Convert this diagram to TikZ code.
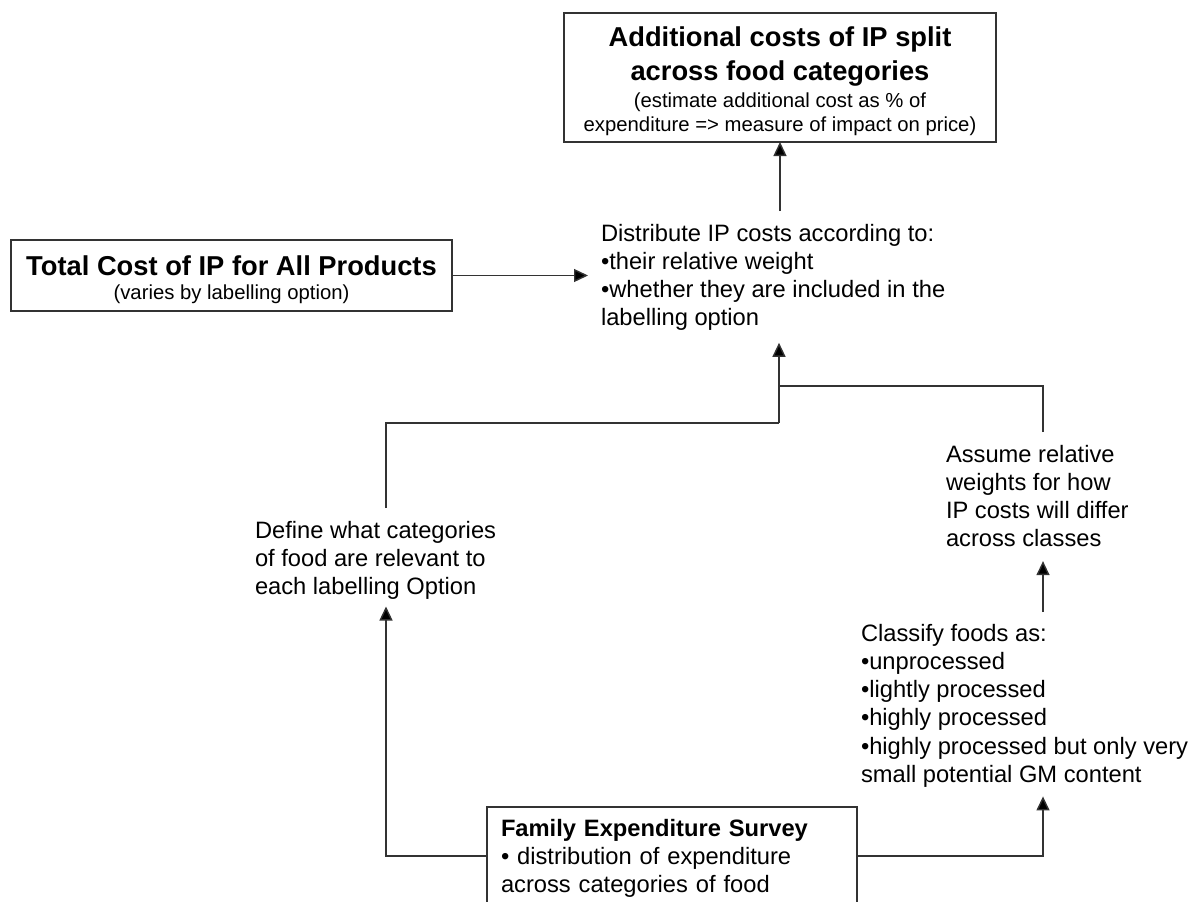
\documentclass[tikz,border=0pt]{standalone}
\usepackage{fontspec}
\setmainfont{Liberation Sans}
\usetikzlibrary{arrows.meta}
% strut that fixes the height of the first line of a text block
\newcommand{\firstln}{\rule{0pt}{18pt}}
\begin{document}
\begin{tikzpicture}[x=1pt,y=-1pt,
  line/.style={draw=black!80, line width=1.4pt},
  arr/.style={line, -{Triangle[length=14pt,width=13pt,fill=black]}},
  frame/.style={draw=black!80, line width=1.4pt, inner sep=0pt, outer sep=0pt},
  txt/.style={inner sep=0pt, outer sep=0pt, align=left, anchor=north west,
    font=\fontsize{23.7}{28.3}\selectfont},
  bigtitle/.style={inner sep=0pt, outer sep=0pt, anchor=base,
    font=\fontsize{27.3}{33}\selectfont\bfseries},
  subtitle/.style={inner sep=0pt, outer sep=0pt, anchor=base,
    font=\fontsize{20.3}{24}\selectfont},
]
\useasboundingbox (0,0) rectangle (1192,902);

% result box at the top
\node[frame, minimum width=432pt, minimum height=129pt] (tbox) at (780,77.5) {};
\node[bigtitle] (tt1) at (780,46.7) {Additional costs of IP split};
\node[bigtitle] (tt2) at (780,80) {across food categories};
\node[subtitle] (ts1) at (780,107) {(estimate additional cost as \% of};
\node[subtitle] (ts2) at (780,131) {expenditure => measure of impact on price)};

% total cost box on the left
\node[frame, minimum width=441pt, minimum height=71pt] (lbox) at (231.5,275.5) {};
\node[bigtitle] (lt1) at (231.5,275) {Total Cost of IP for All Products};
\node[subtitle] (lt2) at (231.5,299) {(varies by labelling option)};

% free text steps
\node[txt] (dist) at (601,223) {\firstln Distribute IP costs according to:\\
  •their relative weight\\
  •whether they are included in the\\
  labelling option};

\node[txt] (define) at (255,520) {\firstln Define what categories\\
  of food are relevant to\\
  each labelling Option};

\node[txt] (assume) at (946,444) {\firstln Assume relative\\
  weights for how\\
  IP costs will differ\\
  across classes};

\node[txt] (classify) at (861,623) {\firstln Classify foods as:\\
  •unprocessed\\
  •lightly processed\\
  •highly processed\\
  •highly processed but only very\\
  small potential GM content};

% data source box at the bottom (runs off the lower edge)
\node[frame, draw, anchor=north west, inner xsep=14pt, inner ysep=11pt,
  text width=342pt, align=left, font=\fontsize{23.7}{28}\selectfont]
  (fes) at (487,807) {\firstln\textbf{Family Expenditure Survey}\\
  • distribution of expenditure\\
  across categories of food};

% bend points of the connectors
\coordinate (jl) at (779,423);
\coordinate (jr) at (779,386);
\coordinate (lb) at (386,856);
\coordinate (rb) at (1043,856);

% connectors
\draw[arr] (lbox.east) -- ([xshift=-13pt]dist.west |- lbox.east);
\draw[arr] ([yshift=12pt]dist.north -| tbox.south) -- (tbox.south);
\draw[arr] (jl) -- ([yshift=-12pt]dist.south -| jl);
\draw[line] ([yshift=12pt]define.north -| lb) |- (jl);
\draw[line] ([yshift=12pt]assume.north -| rb) |- (jr);
\draw[arr] (fes.west |- lb) -- (lb) -- ([yshift=-7pt]define.south -| lb);
\draw[arr] (fes.east |- rb) -- (rb) -- ([yshift=-9pt]classify.south -| rb);
\draw[arr] ([yshift=11pt]classify.north -| rb) -- ([yshift=-14pt]assume.south -| rb);
\end{tikzpicture}
\end{document}
